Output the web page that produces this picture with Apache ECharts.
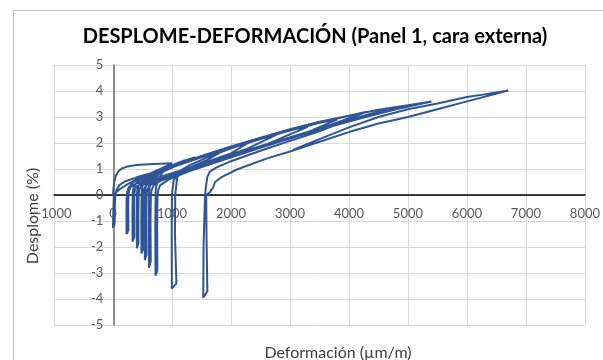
<!DOCTYPE html>
<html><head><meta charset="utf-8">
<script src="https://cdn.jsdelivr.net/npm/echarts@6/dist/echarts.min.js"></script>
<style>html,body{margin:0;padding:0;background:#fff}#c{width:603px;height:360px}</style>
</head><body><div id="c"></div>
<script>
// Chart text
const chartTitle = 'DESPLOME-DEFORMACIÓN (Panel 1, cara externa)';
const xTitle = 'Deformación (µm/m)';
const yTitle = 'Desplome (%)';
// Axis ticks
const xTicks = [-1000, 0, 1000, 2000, 3000, 4000, 5000, 6000, 7000, 8000];
const yTicks = [-5, -4, -3, -2, -1, 0, 1, 2, 3, 4, 5];

// Data: [deformación (µm/m), desplome (%)], in test order
const ciclo0 = [[0,0],[10,0.3],[25,0.55],[50,0.75],[90,0.9],[150,1.02],[250,1.1],[400,1.15],[600,1.18],[800,1.2],[1000,1.22],
  [850,1.05],[600,0.8],[400,0.6],[250,0.42],[130,0.25],[50,0.1],[15,0],[5,-0.7],[0,-1.27],[28,-1.1],[30,-0.5],[40,0]];
const ciclo1 = [[60,0.2],[110,0.38],[200,0.52],[400,0.68],[700,0.88],[1000,1.05],[1200,1.25],[1400,1.45],
  [1200,1.32],[1000,1.15],[700,0.9],[500,0.7],[350,0.5],[270,0.3],[240,0.12],[232,0],[228,-0.8],[230,-1.5],[262,-1.35],[258,-0.5],[262,0]];
const ciclo2 = [[275,0.18],[300,0.32],[400,0.45],[700,0.63],[1000,0.84],[1300,1.05],[1600,1.35],[1900,1.75],
  [1700,1.62],[1500,1.47],[1200,1.25],[1000,1.1],[700,0.85],[500,0.65],[400,0.48],[350,0.3],[335,0.1],[330,-0.8],[332,-1.8],[362,-1.6],[358,-0.6],[362,0]];
const ciclo3 = [[372,0.2],[400,0.33],[500,0.45],[800,0.68],[1200,0.98],[1600,1.28],[2000,1.6],[2300,2.02],
  [2100,1.9],[1800,1.68],[1500,1.45],[1200,1.22],[900,0.98],[650,0.75],[500,0.55],[430,0.35],[408,0.12],[402,-0.9],[405,-2.05],[432,-1.85],[430,-0.7],[435,0]];
const ciclo4 = [[445,0.2],[480,0.36],[600,0.5],[900,0.72],[1300,1.02],[1800,1.4],[2300,1.8],[2800,2.35],
  [2500,2.2],[2100,1.92],[1700,1.62],[1300,1.3],[1000,1.07],[700,0.8],[560,0.58],[500,0.35],[485,0.1],[480,-1.0],[483,-2.25],[512,-2.05],[508,-0.8],[512,0]];
const ciclo5 = [[522,0.2],[555,0.36],[680,0.52],[1000,0.76],[1500,1.15],[2000,1.52],[2600,1.95],[3300,2.62],
  [3000,2.5],[2600,2.25],[2200,1.98],[1800,1.7],[1400,1.4],[1000,1.08],[750,0.82],[610,0.58],[555,0.32],[543,0.1],[538,-1.2],[540,-2.5],[568,-2.3],[565,-0.9],[570,0]];
const ciclo6 = [[582,0.2],[615,0.36],[750,0.55],[1100,0.82],[1600,1.2],[2200,1.65],[2800,2.08],[3300,2.42],[3800,2.9],
  [3500,2.78],[3000,2.5],[2500,2.18],[2000,1.85],[1500,1.47],[1100,1.15],[800,0.85],[660,0.58],[620,0.3],[612,0.1],[608,-1.3],[610,-2.8],[640,-2.55],[636,-1.0],[642,0]];
const ciclo7 = [[655,0.2],[690,0.38],[820,0.56],[1200,0.88],[1700,1.26],[2300,1.7],[3000,2.2],[3700,2.7],[4300,3.2],
  [4000,3.05],[3500,2.82],[3000,2.53],[2500,2.2],[2000,1.87],[1500,1.5],[1100,1.18],[850,0.9],[760,0.6],[730,0.3],[722,0.1],[718,-1.4],[720,-3.1],[752,-2.9],[748,-1.2],[755,0]];
const ciclo8 = [[768,0.2],[800,0.38],[950,0.6],[1300,0.92],[1800,1.3],[2500,1.82],[3200,2.32],[4000,2.85],[4700,3.25],[5350,3.58],
  [5000,3.45],[4500,3.28],[4000,3.05],[3500,2.78],[3000,2.48],[2500,2.15],[2000,1.8],[1600,1.45],[1300,1.15],[1100,0.88],[1030,0.55],[1008,0.2],[1000,0],[995,-1.5],[998,-3.6],[1075,-3.4],[1050,-1.5],[1055,0]];
const ciclo9 = [[1070,0.3],[1090,0.7],[1200,0.88],[1500,1.12],[2000,1.48],[2700,1.98],[3400,2.45],[4200,2.95],[4800,3.3],[5400,3.6],
  [5000,3.42],[4500,3.2],[4000,2.9],[3500,2.45],[3000,2.08],[2500,1.7],[2000,1.3],[1750,1.05],[1640,0.9],[1600,0.7],[1580,0.4],[1560,0],[1535,-2.0],[1530,-3.95],[1600,-3.7],[1585,-1.5],[1580,0]];
const ciclo10 = [[1640,0.1],[1700,0.3],[1730,0.5],[1850,0.7],[2100,0.98],[2600,1.4],[3000,1.67],[3500,2.05],[4000,2.42],[4500,2.75],[5000,3.0],[5500,3.3],[6000,3.6],[6700,4.02],
  [6300,3.87],[6000,3.77],[5500,3.52],[5000,3.3],[4500,3.0],[4000,2.6],[3500,2.15],[3050,1.73]];

const ciclos = [ciclo0, ciclo1, ciclo2, ciclo3, ciclo4, ciclo5, ciclo6, ciclo7, ciclo8, ciclo9, ciclo10];
const serie = [].concat(...ciclos);

const GRID = {left: 54, right: 15, top: 65, bottom: 35};
const W = 603, H = 360;
const gw = W - GRID.left - GRID.right, gh = H - GRID.top - GRID.bottom;
const xMin = xTicks[0], xMax = xTicks[xTicks.length - 1];
const yMin = yTicks[0], yMax = yTicks[yTicks.length - 1];
// move each axis (line + labels) to the other axis's zero, as in the original
const xOffset = -gh * (0 - yMin) / (yMax - yMin);
const yOffset = -gw * (0 - xMin) / (xMax - xMin);

const chart = echarts.init(document.getElementById('c'), null, {renderer: 'canvas'});
const FONT = 'Lato';
chart.setOption({
  animation: false,
  backgroundColor: '#fff',
  grid: Object.assign({containLabel: false}, GRID),
  xAxis: {
    type: 'value', min: xMin, max: xMax, interval: 1000, offset: xOffset,
    axisLine: {onZero: false, lineStyle: {color: '#000', width: 1.5}},
    axisTick: {show: false},
    axisLabel: {color: '#595959', fontSize: 13, fontFamily: FONT, margin: 12, formatter: v => String(v)},
    splitLine: {show: true, lineStyle: {color: '#d9d9d9', width: 1}}
  },
  yAxis: {
    type: 'value', min: yMin, max: yMax, interval: 1, offset: yOffset,
    axisLine: {onZero: false, lineStyle: {color: '#6f6f6f', width: 1.5}},
    axisTick: {show: false},
    axisLabel: {color: '#595959', fontSize: 13, fontFamily: FONT, margin: 10, formatter: v => String(v)},
    splitLine: {show: true, lineStyle: {color: '#d9d9d9', width: 1}}
  },
  series: [{
    type: 'line', data: serie, showSymbol: false, symbol: 'none',
    lineStyle: {color: '#2F5597', width: 2}, smooth: false
  }],
  graphic: [
    {type: 'rect', shape: {x: 13.5, y: 10.5, width: 700, height: 500}, style: {fill: 'none', stroke: '#bfbfbf', lineWidth: 1}, silent: true, z: -1},
    {type: 'text', x: 315, y: 37, style: {text: chartTitle, fill: '#000', font: 'bold 20px ' + FONT, textAlign: 'center', textVerticalAlign: 'middle'}},
    {type: 'text', x: 338, y: 353, style: {text: xTitle, fill: '#404040', font: '16px ' + FONT, textAlign: 'center', textVerticalAlign: 'middle'}},
    {type: 'text', x: 33, y: 216, rotation: Math.PI / 2, style: {text: yTitle, fill: '#404040', font: '16px ' + FONT, textAlign: 'center', textVerticalAlign: 'middle'}}
  ]
});
</script></body></html>
